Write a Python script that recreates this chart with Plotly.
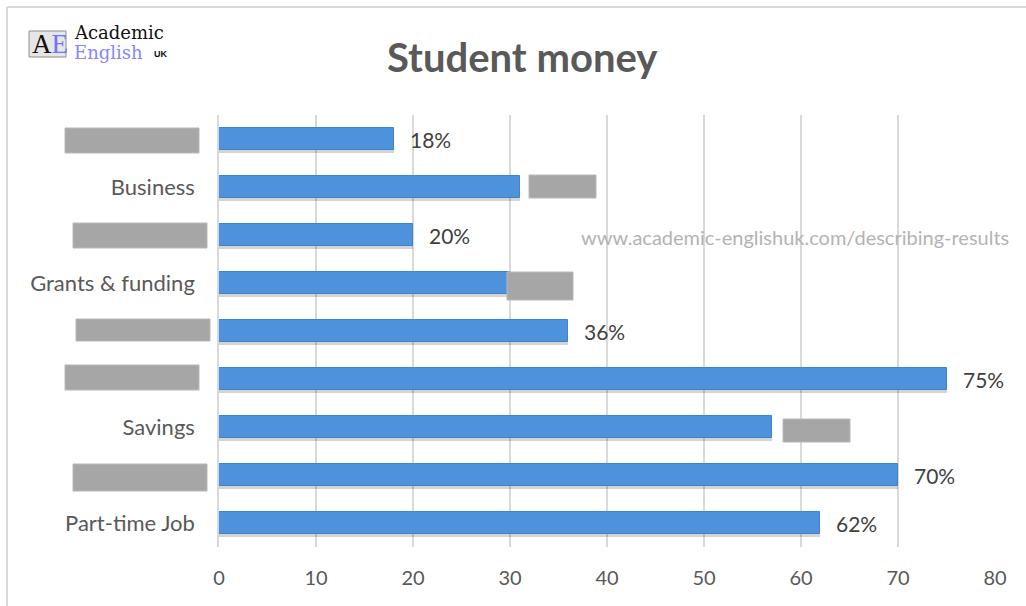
import plotly.graph_objects as go

# ---- data (bottom to top) ----
categories = ["Part-time Job", "", "Savings", "", "", "Grants & funding", "", "Business", ""]
values = [62, 70, 57, 75, 36, 30, 20, 31, 18]
# labels that are visible in the reference (the others are masked)
value_labels = ["62%", "70%", "", "75%", "36%", "", "20%", "", "18%"]
x_ticks = [0, 10, 20, 30, 40, 50, 60, 70, 80]

W, H = 1026, 606
L, R, T, B = 219, 31, 115, 59
PW, PH = W - L - R, H - T - B


def px(x):
    return (x - L) / PW


def py(y):
    return (H - B - y) / PH


ypos = list(range(len(categories)))
FONT = "Lato"
GREY_TXT = "#595959"

fig = go.Figure()

# soft shadow
fig.add_trace(go.Bar(
    y=ypos, x=values, orientation="h", width=0.46, offset=-0.29,
    marker=dict(color="rgba(60,60,60,0.22)", line=dict(width=0)),
    hoverinfo="skip", showlegend=False,
))
# main bars
fig.add_trace(go.Bar(
    y=ypos, x=values, orientation="h", width=0.46,
    marker=dict(color="#4d92dc", line=dict(color="#3f82cc", width=1)),
    showlegend=False,
))

annotations = []
for yi, v, t in zip(ypos, values, value_labels):
    if not t:
        continue
    annotations.append(dict(
        x=v, y=yi, xref="x", yref="y", text=t, showarrow=False,
        xanchor="left", yanchor="middle", xshift=14,
        font=dict(family=FONT, size=21, color="#404040"),
    ))

# title
annotations.append(dict(
    x=px(522), y=py(57), xref="paper", yref="paper", text="<b>Student money</b>",
    showarrow=False, xanchor="center", yanchor="middle",
    font=dict(family=FONT, size=40, color=GREY_TXT),
))
# watermark
annotations.append(dict(
    x=px(1011), y=py(237), xref="paper", yref="paper",
    text="www.academic-englishuk.com/describing-results",
    showarrow=False, xanchor="right", yanchor="middle",
    font=dict(family=FONT, size=20, color="#b3b3b3"),
))
# logo texts
annotations += [
    dict(x=px(30), y=py(44), xref="paper", yref="paper",
         text="A<span style='color:#7373ff'>E</span>", showarrow=False,
         xanchor="left", yanchor="middle",
         font=dict(family="Liberation Serif", size=27, color="#111111")),
    dict(x=px(72), y=py(32), xref="paper", yref="paper", text="Academic", showarrow=False,
         xanchor="left", yanchor="middle",
         font=dict(family="DejaVu Serif", size=18, color="#111111")),
    dict(x=px(72), y=py(53), xref="paper", yref="paper", text="English", showarrow=False,
         xanchor="left", yanchor="middle",
         font=dict(family="DejaVu Serif", size=18, color="#8585ff")),
    dict(x=px(152), y=py(54), xref="paper", yref="paper", text="<b>UK</b>", showarrow=False,
         xanchor="left", yanchor="middle",
         font=dict(family="Liberation Sans", size=9, color="#111111")),
]

shapes = []
# outer frame lines (top & left)
shapes.append(dict(type="line", xref="paper", yref="paper", x0=px(7), x1=px(1026),
                   y0=py(7), y1=py(7), line=dict(color="#d9d9d9", width=2)))
shapes.append(dict(type="line", xref="paper", yref="paper", x0=px(7), x1=px(7),
                   y0=py(7), y1=py(606), line=dict(color="#d9d9d9", width=2)))
# logo box
shapes.append(dict(type="rect", xref="paper", yref="paper", x0=px(29), x1=px(66),
                   y0=py(31), y1=py(57), fillcolor="#e6e6e6",
                   line=dict(color="#8c8c8c", width=1), layer="below"))

# grey masking boxes (pixel rectangles)
boxes = [
    (65, 199, 128, 153), (73, 207, 223, 248), (76, 210, 319, 341),
    (65, 199, 365, 390), (73, 207, 464, 491),
    (529, 596, 175, 198), (507, 573, 272, 300), (783, 850, 419, 442),
]
for x0, x1, y0, y1 in boxes:
    shapes.append(dict(type="rect", xref="paper", yref="paper",
                       x0=px(x0), x1=px(x1), y0=py(y1), y1=py(y0),
                       fillcolor="#a6a6a6", line=dict(color="#b8b8b8", width=1),
                       layer="above"))

fig.update_layout(
    width=W, height=H,
    margin=dict(l=L, r=R, t=T, b=B, pad=0),
    paper_bgcolor="white", plot_bgcolor="white",
    barmode="overlay", bargap=0,
    annotations=annotations, shapes=shapes,
    xaxis=dict(range=[0, 80], tickvals=x_ticks, ticktext=[str(v) for v in x_ticks],
               showgrid=True, gridcolor="#d9d9d9", gridwidth=1.5, zeroline=False,
               showline=False, ticks="", ticklabelstandoff=17,
               tickfont=dict(family=FONT, size=20, color=GREY_TXT), fixedrange=True),
    yaxis=dict(range=[-0.5, 8.5], tickvals=ypos, ticktext=categories,
               showgrid=False, zeroline=False, showline=True,
               linecolor="#d9d9d9", linewidth=1.5, ticks="", ticklabelstandoff=18,
               tickfont=dict(family=FONT, size=22, color=GREY_TXT), fixedrange=True),
    font=dict(family=FONT),
)

fig.write_html("out.html")
